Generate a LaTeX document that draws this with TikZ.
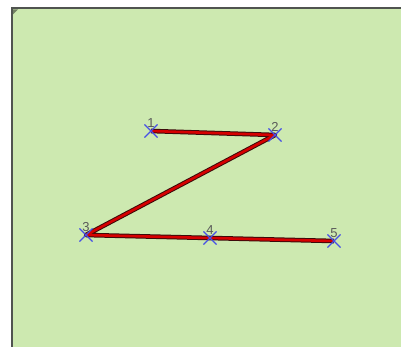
\documentclass[tikz,border=0pt]{standalone}
\usepackage{fontspec}
\setsansfont{Liberation Sans}
\usetikzlibrary{positioning,shapes.misc}
\definecolor{paneGreen}{RGB}{205,233,176}
\definecolor{paneEdge}{RGB}{80,84,80}
\definecolor{pathRed}{RGB}{214,0,0}
\definecolor{pathDark}{RGB}{60,10,10}
\definecolor{markBlue}{RGB}{70,80,230}
\tikzset{
  vertex/.style={cross out, draw=markBlue, line width=1.1pt, minimum size=12pt, inner sep=0pt},
  numlbl/.style={font=\sffamily\fontsize{13}{14}\selectfont, text=black!65, inner sep=0pt}
}
\begin{document}
\begin{tikzpicture}[x=1pt, y=-1pt]
  \useasboundingbox (0,0) rectangle (401,347);
  % pane
  \fill[paneGreen] (12,8) rectangle (401,347);
  \draw[paneEdge, line width=2pt] (12,347) -- (12,8.5) -- (401,8.5);
  \fill[black!45!paneGreen] (13,9.5) -- (18,9.5) -- (13,14.5) -- cycle;
  % vertices
  \coordinate (c1) at (151,131);
  \coordinate (c2) at (275,135);
  \coordinate (c3) at (86,235);
  \coordinate (c4) at (210,238);
  \coordinate (c5) at (334,241);
  % polyline
  \draw[pathDark, line width=4.6pt, line join=round] (c1) -- (c2) -- (c3) -- (c4) -- (c5);
  \draw[pathRed, line width=2.6pt, line join=round] (c1) -- (c2) -- (c3) -- (c4) -- (c5);
  % markers and numbers
  \foreach \i in {1,...,5} {
    \node[vertex] (p\i) at (c\i) {};
    \node[numlbl, above=3.5pt of p\i.center] (l\i) {\i};
  }
\end{tikzpicture}
\end{document}
